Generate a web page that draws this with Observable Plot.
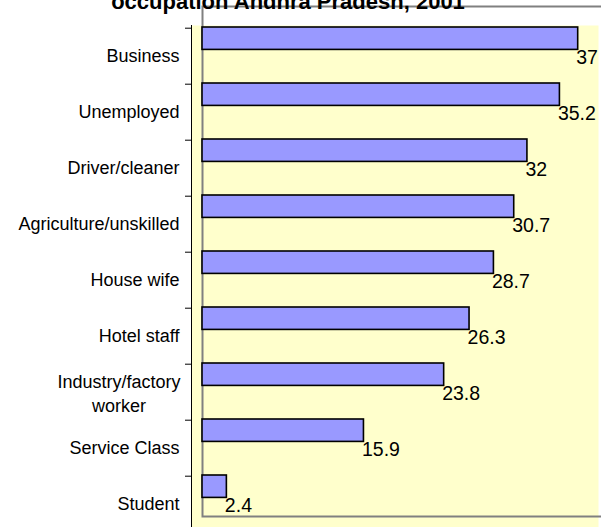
<!DOCTYPE html>
<html>
<head>
<meta charset="utf-8">
<script src="https://cdn.jsdelivr.net/npm/d3@7"></script>
<script src="https://cdn.jsdelivr.net/npm/@observablehq/plot@0.6"></script>
<style>
  html, body { margin: 0; padding: 0; background: #ffffff; }
  #chart { width: 601px; height: 527px; overflow: hidden; }
  svg { display: block; }
</style>
</head>
<body>
<div id="chart"></div>
<script>
const titleText = "occupation Andhra Pradesh, 2001";
const categories = ["Business", "Unemployed", "Driver/cleaner", "Agriculture/unskilled", "House wife", "Hotel staff", "Industry/factory\nworker", "Service Class", "Student"];
const values = [37, 35.2, 32, 30.7, 28.7, 26.3, 23.8, 15.9, 2.4];

const data = categories.map((c, i) => ({category: c, value: values[i]}));
const font = "Arial, 'Liberation Sans', sans-serif";

const chart = Plot.plot({
  width: 601,
  height: 527,
  marginLeft: 202,
  marginRight: 3,
  marginTop: 25,
  marginBottom: 0,
  style: {fontFamily: font, background: "#ffffff", color: "#000000", overflow: "visible"},
  x: {domain: [0, 39], axis: null},
  y: {domain: categories, range: [25, 534.4], padding: 0, axis: null},
  marks: [
    Plot.frame({fill: "#ffffcc", stroke: null, insetLeft: -11}),
    Plot.frame({fill: "none", stroke: "#808080", strokeWidth: 2, insetTop: -19, insetBottom: 11, insetRight: -6}),
    Plot.ruleX([0], {dx: 0, y1: null, stroke: "#808080", strokeWidth: 2, insetTop: -25, insetBottom: 11}),
    Plot.ruleX([0], {dx: -11, stroke: "#000000", strokeWidth: 1}),
    Plot.axisY({text: null, label: null, tickSize: 6, dx: -11, dy: -28.3, stroke: "#000000", strokeWidth: 1}),
    Plot.barX(data, {x: "value", y: "category", fill: "#9999ff", stroke: "#000000", strokeWidth: 1.6, insetTop: -1, insetBottom: 34.6}),
    Plot.text(data, {x: "value", y: "category", text: d => String(d.value), textAnchor: "start", lineAnchor: "top", dx: -2, dy: -6.5, fontSize: 19.5, fill: "#000000"}),
    Plot.text(data.filter(d => !d.category.includes("\n")), {y: "category", text: "category", frameAnchor: "left", textAnchor: "end", dx: -23, fontSize: 18, fill: "#000000"}),
    Plot.text(data.filter(d => d.category.includes("\n")), {y: "category", text: "category", frameAnchor: "left", textAnchor: "middle", dx: -83.5, lineHeight: 1.35, fontSize: 18, fill: "#000000"})
  ]
});

d3.select(chart).append("text")
  .attr("x", 288)
  .attr("y", 9)
  .attr("text-anchor", "middle")
  .attr("font-family", font)
  .attr("font-weight", "bold")
  .attr("font-size", 22)
  .attr("fill", "#000000")
  .text(titleText);

document.getElementById("chart").appendChild(chart);
</script>
</body>
</html>
